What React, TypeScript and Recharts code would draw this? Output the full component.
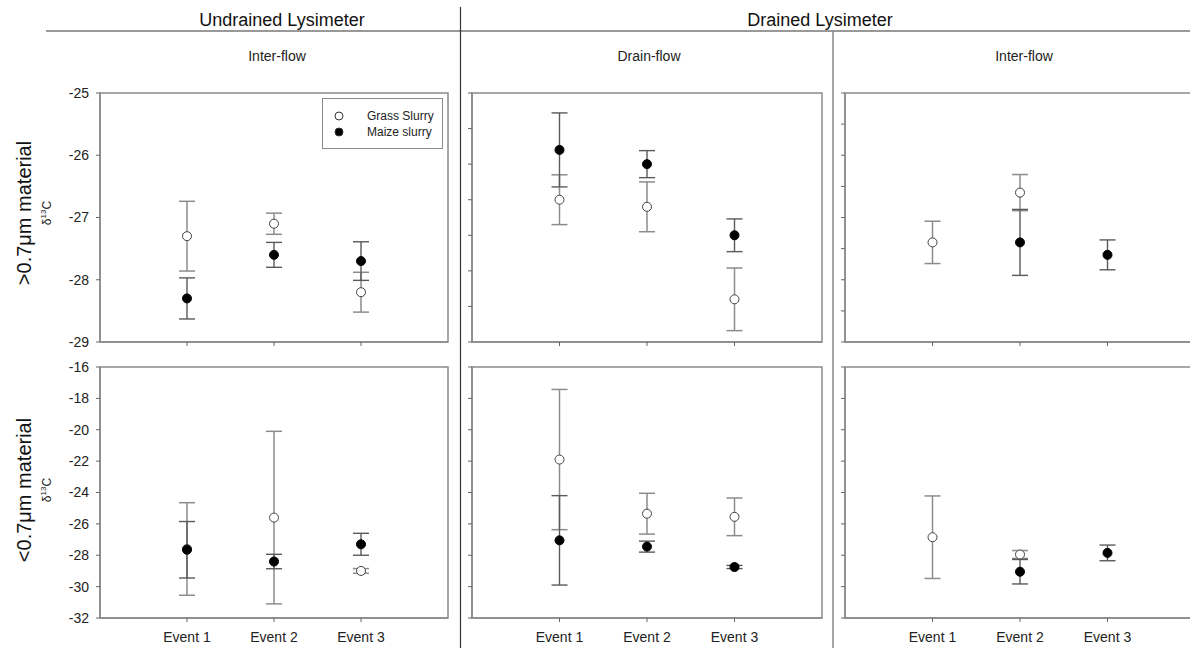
import React from 'react';
import { ScatterChart, Scatter, XAxis, YAxis, ErrorBar, ReferenceArea, Legend } from 'recharts';

// ---------- categories & ticks ----------
const events = ['Event 1', 'Event 2', 'Event 3'];
const eventPositions = [1, 2, 3];
const topTicksUndrained = [-25, -26, -27, -28, -29];
const topTicksDrain = [-25, -25.5, -26, -26.5, -27, -27.5, -28, -28.5];
const topTicksInter = [-25, -25.5, -26, -26.5, -27, -27.5, -28, -28.5, -29];
const bottomTicks = [-16, -18, -20, -22, -24, -26, -28, -30, -32];

// ---------- >0.7 µm material ----------
// Undrained lysimeter, inter-flow
const undrainedTopGrass = [-27.3, -27.1, -28.2];
const undrainedTopGrassErr = [0.56, 0.17, 0.32];
const undrainedTopMaize = [-28.3, -27.6, -27.7];
const undrainedTopMaizeErr = [0.33, 0.2, 0.31];
// Drained lysimeter, drain-flow
const drainTopGrass = [-26.5, -26.6, -27.9];
const drainTopGrassErr = [0.35, 0.35, 0.44];
const drainTopMaize = [-25.8, -26.0, -27.0];
const drainTopMaizeErr = [0.52, 0.19, 0.23];
// Drained lysimeter, inter-flow
const interTopGrass = [-27.4, -26.6, null];
const interTopGrassErr = [0.34, 0.29, null];
const interTopMaize = [null, -27.4, -27.6];
const interTopMaizeErr = [null, 0.53, 0.24];

// ---------- <0.7 µm material ----------
const undrainedBotGrass = [-27.6, -25.6, -29.0];
const undrainedBotGrassErr = [2.95, 5.5, 0.15];
const undrainedBotMaize = [-27.65, -28.4, -27.3];
const undrainedBotMaizeErr = [1.8, 0.46, 0.7];
const drainBotGrass = [-21.9, -25.35, -25.55];
const drainBotGrassErr = [4.47, 1.3, 1.2];
const drainBotMaize = [-27.05, -27.45, -28.75];
const drainBotMaizeErr = [2.85, 0.35, 0.1];
const interBotGrass = [-26.85, -27.95, null];
const interBotGrassErr = [2.63, 0.25, null];
const interBotMaize = [null, -29.05, -27.85];
const interBotMaizeErr = [null, 0.78, 0.5];

const FONT = '"Liberation Sans", Arial, Helvetica, sans-serif';
const FRAME = '#8a8a8a';

type Pt = { x: number; y: number; err: number };
function build(vals: (number | null)[], errs: (number | null)[]): Pt[] {
  const out: Pt[] = [];
  vals.forEach((v, i) => {
    if (v !== null && v !== undefined) out.push({ x: eventPositions[i], y: v, err: (errs[i] as number) || 0 });
  });
  return out;
}

const legendContent = (props: any) => {
  const payload = props.payload || [];
  return (
    <div style={{ fontFamily: FONT, fontSize: 12, color: '#222', paddingTop: 9 }}>
      {payload.map((e: any, i: number) => (
        <div key={i} style={{ display: 'flex', alignItems: 'center', height: 16 }}>
          <svg width={44} height={14} style={{ display: 'block' }}>
            <circle cx={16} cy={7} r={4} fill={e.color} stroke="#333" strokeWidth={1} />
          </svg>
          <span>{e.value}</span>
        </div>
      ))}
    </div>
  );
};

type PanelProps = {
  left: number; top: number; width: number; height: number;
  domain: [number, number]; ticks: number[];
  grass: (number | null)[]; grassErr: (number | null)[];
  maize: (number | null)[]; maizeErr: (number | null)[];
  yLabels: boolean; xLabels: boolean; legend?: boolean;
};

function Panel(p: PanelProps) {
  const mL = 60, mT = 10, mR = 10, xH = 40;
  const gData = build(p.grass, p.grassErr);
  const mData = build(p.maize, p.maizeErr);
  return (
    <div style={{ position: 'absolute', left: p.left - mL, top: p.top - mT }}>
      <ScatterChart width={p.width + mL + mR} height={p.height + mT + xH}
        margin={{ top: mT, right: mR, bottom: 0, left: 0 }}>
        <XAxis type="number" dataKey="x" domain={[0, 4]} ticks={eventPositions} height={xH}
          tickFormatter={(v: number) => (p.xLabels ? events[v - 1] : '')}
          axisLine={{ stroke: FRAME, strokeWidth: 1.5 }} tickLine={{ stroke: '#666' }}
          tickSize={4} tickMargin={10} tick={{ fill: '#222', fontSize: 14, fontFamily: FONT }} />
        <YAxis type="number" dataKey="y" domain={p.domain} ticks={p.ticks} width={mL}
          tickFormatter={(v: number) => (p.yLabels ? String(v) : '')}
          axisLine={{ stroke: FRAME, strokeWidth: 1.5 }} tickLine={{ stroke: '#666' }}
          tickSize={4} tickMargin={7} tick={{ fill: '#222', fontSize: 14, fontFamily: FONT }} />
        <ReferenceArea x1={0} x2={4} y1={p.domain[0]} y2={p.domain[1]} fill="none"
          stroke={FRAME} strokeWidth={1.5} ifOverflow="visible" />
        <Scatter name="Grass Slurry" data={gData} fill="#ffffff" isAnimationActive={false}
          shape={(s: any) => <circle cx={s.cx} cy={s.cy} r={4.5} fill="#fff" stroke="#444" strokeWidth={1} />}>
          <ErrorBar dataKey="err" direction="y" width={8} stroke="#8c8c8c" strokeWidth={1.5} />
        </Scatter>
        <Scatter name="Maize slurry" data={mData} fill="#000000" isAnimationActive={false}
          shape={(s: any) => <circle cx={s.cx} cy={s.cy} r={4.5} fill="#000" stroke="#000" strokeWidth={1} />}>
          <ErrorBar dataKey="err" direction="y" width={8} stroke="#5a5a5a" strokeWidth={1.4} />
        </Scatter>
        {p.legend && (
          <Legend layout="vertical" align="center" verticalAlign="middle" content={legendContent}
            wrapperStyle={{ left: 282, top: 15, width: 121, height: 51, border: `1px solid ${FRAME}`,
              boxSizing: 'border-box', background: '#fff' }} />
        )}
      </ScatterChart>
    </div>
  );
}

function YTitle({ y, text }: { y: number; text: string }) {
  return (
    <g>
      <text x={31} y={y} transform={`rotate(-90 31 ${y})`} textAnchor="middle"
        fontFamily={FONT} fontSize={20} fill="#111">{text}</text>
      <text x={51} y={y} transform={`rotate(-90 51 ${y})`} textAnchor="middle"
        fontFamily={FONT} fontSize={12} fill="#222">
        δ<tspan fontSize={8} dy={-5}>13</tspan><tspan dy={5}>C</tspan>
      </text>
    </g>
  );
}

export default function App() {
  return (
    <div style={{ position: 'absolute', left: 0, top: 0, width: 1190, height: 648, overflow: 'hidden', background: '#fff' }}>
      <Panel left={100} top={93} width={348} height={249} domain={[-29, -25]} ticks={topTicksUndrained}
        grass={undrainedTopGrass} grassErr={undrainedTopGrassErr} maize={undrainedTopMaize} maizeErr={undrainedTopMaizeErr}
        yLabels xLabels={false} legend />
      <Panel left={100} top={367} width={348} height={251} domain={[-32, -16]} ticks={bottomTicks}
        grass={undrainedBotGrass} grassErr={undrainedBotGrassErr} maize={undrainedBotMaize} maizeErr={undrainedBotMaizeErr}
        yLabels xLabels />
      <Panel left={472} top={93} width={350} height={249} domain={[-28.5, -25]} ticks={topTicksDrain}
        grass={drainTopGrass} grassErr={drainTopGrassErr} maize={drainTopMaize} maizeErr={drainTopMaizeErr}
        yLabels={false} xLabels={false} />
      <Panel left={472} top={367} width={350} height={251} domain={[-32, -16]} ticks={bottomTicks}
        grass={drainBotGrass} grassErr={drainBotGrassErr} maize={drainBotMaize} maizeErr={drainBotMaizeErr}
        yLabels={false} xLabels />
      <Panel left={845} top={93} width={350} height={249} domain={[-29, -25]} ticks={topTicksInter}
        grass={interTopGrass} grassErr={interTopGrassErr} maize={interTopMaize} maizeErr={interTopMaizeErr}
        yLabels={false} xLabels={false} />
      <Panel left={845} top={367} width={350} height={251} domain={[-32, -16]} ticks={bottomTicks}
        grass={interBotGrass} grassErr={interBotGrassErr} maize={interBotMaize} maizeErr={interBotMaizeErr}
        yLabels={false} xLabels />
      <svg width={1190} height={648} style={{ position: 'absolute', left: 0, top: 0, pointerEvents: 'none' }}>
        <line x1={46} y1={31} x2={1190} y2={31} stroke="#777" strokeWidth={1.5} />
        <line x1={460.5} y1={7} x2={460.5} y2={648} stroke="#333" strokeWidth={1.2} />
        <line x1={833} y1={31} x2={833} y2={648} stroke="#888" strokeWidth={1.5} />
        <text x={282} y={26} textAnchor="middle" fontFamily={FONT} fontSize={18} fill="#111">Undrained Lysimeter</text>
        <text x={820} y={26} textAnchor="middle" fontFamily={FONT} fontSize={18} fill="#111">Drained Lysimeter</text>
        <text x={277} y={61} textAnchor="middle" fontFamily={FONT} fontSize={14} fill="#222">Inter-flow</text>
        <text x={649} y={61} textAnchor="middle" fontFamily={FONT} fontSize={14} fill="#222">Drain-flow</text>
        <text x={1024} y={61} textAnchor="middle" fontFamily={FONT} fontSize={14} fill="#222">Inter-flow</text>
        <YTitle y={213} text=">0.7μm material" />
        <YTitle y={490} text="<0.7μm material" />
      </svg>
    </div>
  );
}
